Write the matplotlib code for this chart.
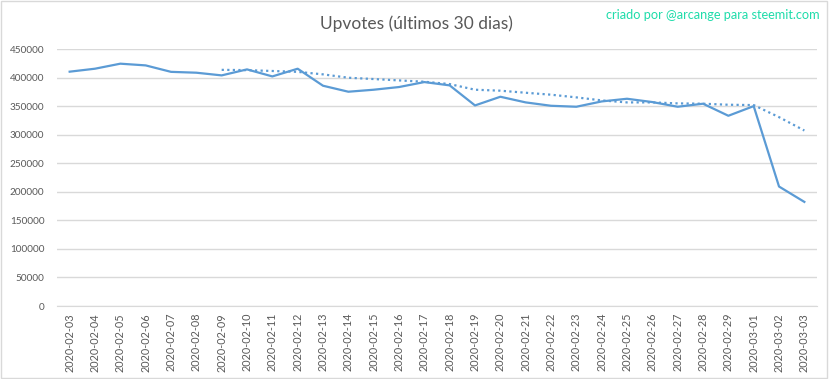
import matplotlib
matplotlib.use('Agg')
import matplotlib.pyplot as plt
from matplotlib.patches import Rectangle

plt.rcParams['font.family'] = ['Lato', 'DejaVu Sans']

# datas (últimos 30 dias)
dates = ['2020-02-03', '2020-02-04', '2020-02-05', '2020-02-06', '2020-02-07',
         '2020-02-08', '2020-02-09', '2020-02-10', '2020-02-11', '2020-02-12',
         '2020-02-13', '2020-02-14', '2020-02-15', '2020-02-16', '2020-02-17',
         '2020-02-18', '2020-02-19', '2020-02-20', '2020-02-21', '2020-02-22',
         '2020-02-23', '2020-02-24', '2020-02-25', '2020-02-26', '2020-02-27',
         '2020-02-28', '2020-02-29', '2020-03-01', '2020-03-02', '2020-03-03']

upvotes = [410300, 415500, 424300, 421300, 410000, 408500, 403800, 414300,
           402000, 415500, 385700, 375200, 378700, 383400, 392100, 386300,
           351200, 366400, 356500, 350600, 348900, 358200, 362900, 357100,
           348900, 354200, 333100, 350000, 209200, 182300]

# tendência (média móvel), começa em 2020-02-09
trend_start = 6
trend = [413500, 413000, 411500, 410000, 405600, 399700, 397400, 395000,
         392700, 388600, 378700, 377000, 373400, 370000, 365300, 360000,
         356500, 356500, 354800, 354200, 352400, 351800, 330700, 307300]

yticks = list(range(0, 450001, 50000))

blue = '#5b9bd5'
grey_txt = '#595959'
grid_c = '#d9d9d9'

fig = plt.figure(figsize=(8.32, 3.79), dpi=100)
ax = fig.add_axes([0.0685, 0.1926, 0.9135, 0.6781])

x = list(range(len(dates)))
ax.plot(x, upvotes, color=blue, lw=1.6, solid_joinstyle='round')
ax.plot(x[trend_start:], trend, color=blue, lw=1.6, linestyle=(0, (1, 1.5)))

ax.set_xlim(-0.5, len(dates) - 0.5)
ax.set_ylim(0, 450000)
ax.set_yticks(yticks)
ax.set_yticklabels([str(v) for v in yticks])
ax.set_xticks(x)
ax.set_xticklabels(dates, rotation=90, va='top')

ax.tick_params(axis='both', length=0, colors=grey_txt)
ax.tick_params(axis='y', pad=9, labelsize=7.2)
ax.tick_params(axis='x', pad=5, labelsize=7.8)

ax.grid(axis='y', color=grid_c, lw=1)
ax.set_axisbelow(True)
for s in ['top', 'right', 'left']:
    ax.spines[s].set_visible(False)
ax.spines['bottom'].set_color(grid_c)

fig.text(0.5, 0.937, 'Upvotes (últimos 30 dias)', ha='center', va='center',
         fontsize=12.5, color=grey_txt)
fig.text(0.985, 0.96, 'criado por @arcange para steemit.com', ha='right',
         va='center', fontsize=9.2, color='#1fdcaa')

# moldura
fig.add_artist(Rectangle((0.0015, 0.003), 0.992, 0.994, transform=fig.transFigure,
                         fill=False, ec=grid_c, lw=1))

fig.savefig('out.png', dpi=100, facecolor='white')
